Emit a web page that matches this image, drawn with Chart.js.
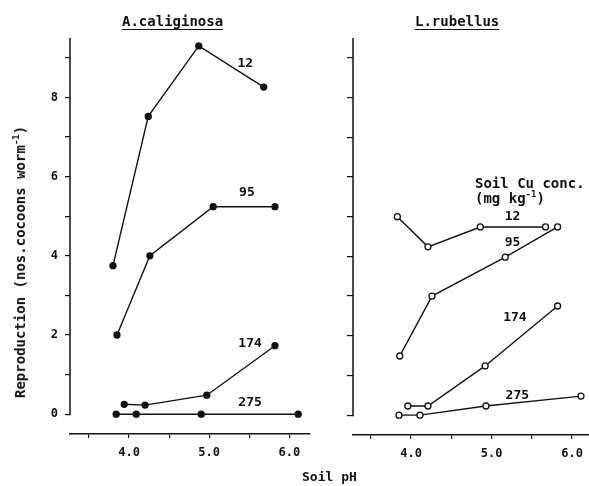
<!DOCTYPE html>
<html>
<head>
<meta charset="utf-8">
<script src="https://cdn.jsdelivr.net/npm/chart.js@4.4.1/dist/chart.umd.min.js"></script>
<style>
  body { margin: 0; background: #fff; width: 589px; height: 486px; position: relative; overflow: hidden;
         font-family: "DejaVu Sans Mono", monospace; font-weight: bold; color: #111; }
  canvas { position: absolute; top: 0; }
  #leftChart { left: 0; }
  #rightChart { left: 320px; }
  .txt { position: absolute; white-space: nowrap; font-size: 14px; line-height: 16px; }
  .ttl { text-decoration: underline; text-underline-offset: 3px; }
  #ylab { left: 20px; top: 262px; transform: translate(-50%, -50%) rotate(-90deg); }
  sup { font-size: 9px; line-height: 0; }
</style>
</head>
<body>
<canvas id="leftChart" width="320" height="486"></canvas>
<canvas id="rightChart" width="269" height="486"></canvas>
<div class="txt ttl" style="left:122px;top:13px">A.caliginosa</div>
<div class="txt ttl" style="left:415px;top:13px">L.rubellus</div>
<div class="txt" id="ylab">Reproduction (nos.cocoons worm<sup>-1</sup>)</div>
<div class="txt" style="left:302px;top:469px;font-size:13px">Soil pH</div>
<div class="txt" style="left:475px;top:175px">Soil Cu conc.</div>
<div class="txt" style="left:475px;top:190px">(mg kg<sup>-1</sup>)</div>

<script>
// --- DATA ---
const curveNames = ['12', '95', '174', '275'];
const phTicks = [3.5, 4.0, 4.5, 5.0, 5.5, 6.0];
const yTicks = [0, 1, 2, 3, 4, 5, 6, 7, 8, 9];

// A. caliginosa (filled points)
const acPh12 = [3.80, 4.24, 4.87, 5.68];
const ac12 = [3.75, 7.52, 9.30, 8.26];
const acPh95 = [3.85, 4.26, 5.05, 5.82];
const ac95 = [2.00, 4.00, 5.24, 5.24];
const acPh174 = [3.94, 4.20, 4.97, 5.82];
const ac174 = [0.25, 0.23, 0.48, 1.73];
const acPh275 = [3.84, 4.09, 4.90, 6.11];
const ac275 = [0, 0, 0, 0];
const acLabelPh = [5.45, 5.47, 5.51, 5.51];
const acLabelY = [8.86, 5.60, 1.79, 0.28];

// L. rubellus (open points)
const lrPh12 = [3.83, 4.21, 4.86, 5.67];
const lr12 = [5.00, 4.24, 4.74, 4.74];
const lrPh95 = [3.86, 4.26, 5.17, 5.82];
const lr95 = [1.49, 3.00, 3.98, 4.74];
const lrPh174 = [3.96, 4.21, 4.92, 5.82];
const lr174 = [0.23, 0.23, 1.24, 2.75];
const lrPh275 = [3.85, 4.11, 4.93, 6.11];
const lr275 = [0, 0, 0.23, 0.48];
const lrLabelPh = [5.26, 5.26, 5.29, 5.32];
const lrLabelY = [5.00, 4.34, 2.45, 0.50];

const ink = '#111';
const fontFam = '"DejaVu Sans Mono", monospace';

// y axis line only from 0 upward, plus curve labels
const panelDecor = {
  id: 'panelDecor',
  afterDatasetsDraw(chart, args, opts) {
    const { ctx, chartArea, scales } = chart;
    const x = scales.x, y = scales.y;
    ctx.save();
    ctx.strokeStyle = ink;
    ctx.lineWidth = 1.5;
    ctx.beginPath();
    ctx.moveTo(chartArea.left, y.getPixelForValue(0) + 1);
    ctx.lineTo(chartArea.left, y.getPixelForValue(y.max));
    ctx.stroke();
    ctx.fillStyle = ink;
    ctx.font = 'bold 13px ' + fontFam;
    ctx.textAlign = 'center';
    ctx.textBaseline = 'middle';
    curveNames.forEach((name, i) => {
      ctx.fillText(name, x.getPixelForValue(opts.ph[i]), y.getPixelForValue(opts.val[i]));
    });
    ctx.restore();
  }
};

function makeSeries(phs, vals, filled) {
  return phs.map((ph, k) => ({
    data: ph.map((p, i) => ({ x: p, y: vals[k][i] })),
    showLine: true,
    borderColor: ink,
    borderWidth: 1.4,
    pointRadius: 3,
    pointBackgroundColor: filled ? ink : '#fff',
    pointBorderColor: ink,
    pointBorderWidth: 1.3
  }));
}

function makePanel(id, datasets, cfg) {
  return new Chart(document.getElementById(id), {
    type: 'scatter',
    data: { datasets },
    options: {
      responsive: false, animation: false, devicePixelRatio: 1,
      layout: { autoPadding: false, padding: { top: 38, right: cfg.padRight, left: 0, bottom: 0 } },
      plugins: {
        legend: { display: false }, tooltip: { enabled: false },
        panelDecor: { ph: cfg.labelPh, val: cfg.labelY }
      },
      scales: {
        x: {
          type: 'linear', min: cfg.xMin, max: cfg.xMax,
          afterBuildTicks: s => { s.ticks = phTicks.map(v => ({ value: v })); },
          afterFit: s => { s.height = cfg.xHeight; s.paddingLeft = 0; s.paddingRight = 0; },
          grid: { drawOnChartArea: false, drawTicks: true, tickLength: 4, color: ink, lineWidth: 1.2 },
          border: { display: true, color: ink, width: 1.5 },
          ticks: {
            autoSkip: false, maxRotation: 0, padding: 8, color: ink,
            font: { family: fontFam, size: 12, weight: 'bold' },
            callback: v => Number.isInteger(v) ? v.toFixed(1) : ''
          }
        },
        y: {
          type: 'linear', min: -0.5, max: 9.5,
          afterBuildTicks: s => { s.ticks = yTicks.map(v => ({ value: v })); },
          afterFit: s => { s.width = cfg.yWidth; s.paddingTop = 0; s.paddingBottom = 0; },
          grid: { drawOnChartArea: false, drawTicks: true, tickLength: cfg.yTick, color: ink, lineWidth: 1.2 },
          border: { display: false },
          ticks: {
            autoSkip: false, padding: 7, color: ink,
            font: { family: fontFam, size: 12, weight: 'bold' },
            callback: v => (cfg.yLabels && v % 2 === 0) ? String(v) : ''
          }
        }
      }
    },
    plugins: [panelDecor]
  });
}

makePanel('leftChart',
  makeSeries([acPh12, acPh95, acPh174, acPh275], [ac12, ac95, ac174, ac275], true),
  { padRight: 10, xMin: 3.264, xMax: 6.257, xHeight: 52, yWidth: 70, yTick: 5, yLabels: true,
    labelPh: acLabelPh, labelY: acLabelY });

makePanel('rightChart',
  makeSeries([lrPh12, lrPh95, lrPh174, lrPh275], [lr12, lr95, lr174, lr275], false),
  { padRight: 0, xMin: 3.279, xMax: 6.21, xHeight: 51, yWidth: 33, yTick: 6, yLabels: false,
    labelPh: lrLabelPh, labelY: lrLabelY });
</script>
</body>
</html>
